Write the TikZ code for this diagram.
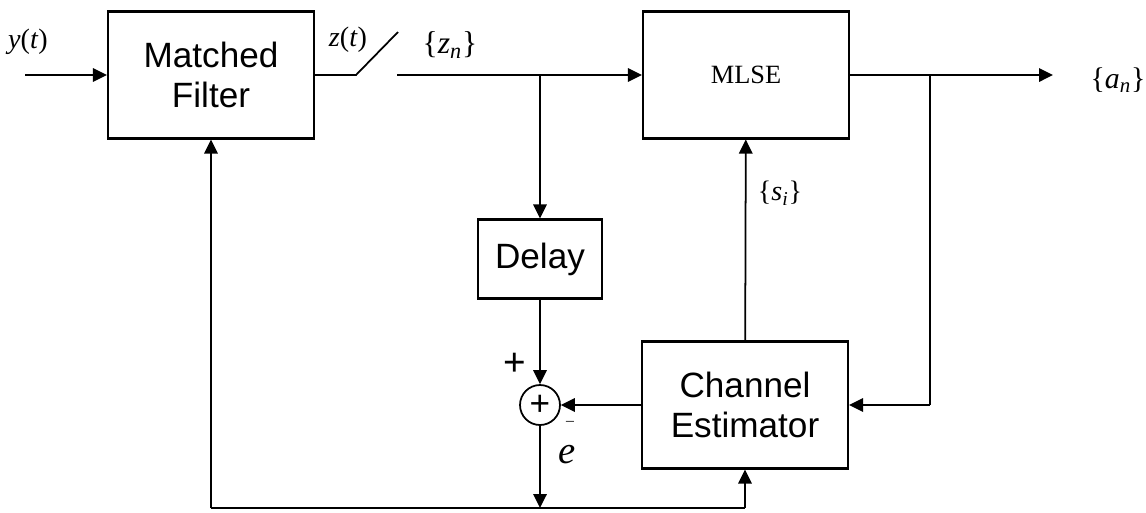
\documentclass[tikz,border=0pt]{standalone}
\usepackage{fontspec}
\setmainfont{Liberation Serif}
\setsansfont{Liberation Sans}
\usetikzlibrary{shapes.geometric, arrows.meta, positioning}

\begin{document}
\begin{tikzpicture}[x=0.02cm, y=-0.02cm, >={Triangle[length=0.28cm,width=0.27cm]}]
    \tikzstyle{block} = [rectangle, draw, line width=1.2pt, minimum width=4.12cm, minimum height=2.54cm, align=center, font=\sffamily\fontsize{20}{23}\selectfont]
    \tikzstyle{line} = [draw, ->, line width=1pt]
    \tikzstyle{wire} = [draw, line width=1pt]
    \tikzstyle{sig} = [font=\fontsize{16}{18}\selectfont]
    \useasboundingbox (0,0) rectangle (1146,512);

    \node [block] (mf) at (211,75) {Matched\\Filter};
    \node [block, font=\fontsize{15}{17}\selectfont] (mlse) at (746,75) {MLSE};
    \node [block, minimum width=2.48cm, minimum height=1.58cm] (delay) at (540,259) {Delay};
    \node [block] (ce) at (745,405) {Channel\\Estimator};
    \node [circle, draw, line width=1pt, minimum size=0.8cm, inner sep=0pt, font=\sffamily\fontsize{20}{22}\selectfont] (sum) at (540,405) {+};

    \coordinate (in) at (25,75);
    \coordinate (swa) at (356,75);
    \coordinate (swb) at (398,32);
    \coordinate (swc) at (397,75);
    \coordinate (tap) at (540,75);
    \coordinate (fork) at (930,75);
    \coordinate (out) at (1053,75);
    \coordinate (back) at (930,405);
    \coordinate (bm) at (540,508);
    \coordinate (bl) at (mf.south |- bm);
    \coordinate (br) at (ce.south |- bm);

    \path [line] (in) -- (mf);
    \path [wire] (mf) -- (swa) -- (swb);
    \path [line] (swc) -- (mlse);
    \path [line] (tap) -- (delay);
    \path [line] (delay) -- (sum);
    \path [line] (ce) -- (sum);
    \path [line] (sum) -- (bm);
    \path [wire] (bl) -- (br);
    \path [line] (bl) -- (mf);
    \path [line] (br) -- (ce);
    \path [line] (ce) -- (mlse);
    \path [line] (mlse) -- (out);
    \path [wire] (fork) -- (back);
    \path [line] (back) -- (ce);

    \node [sig] (ylab) at (28,42) {\textit{y}(\textit{t})};
    \node [sig] (zlab) at (348,40) {\textit{z}(\textit{t})};
    \node [sig, font=\fontsize{18}{20}\selectfont] (znlab) at (450,45) {\{\textit{z}\textsubscript{\textit{n}}\}};
    \node [sig, font=\fontsize{17}{19}\selectfont] (anlab) at (1118,80) {\{\textit{a}\textsubscript{\textit{n}}\}};
    \node [sig] (silab) at (780,193) {\{\textit{s}\textsubscript{\textit{i}}\}};
    \node [font=\sffamily\fontsize{22}{24}\selectfont] (plus) at (515,364) {+};
    \node [font=\small] (minus) at (570,423) {--};
    \node [font=\fontsize{22}{24}\selectfont] (elab) at (567,455) {\textit{e}};
\end{tikzpicture}
\end{document}
